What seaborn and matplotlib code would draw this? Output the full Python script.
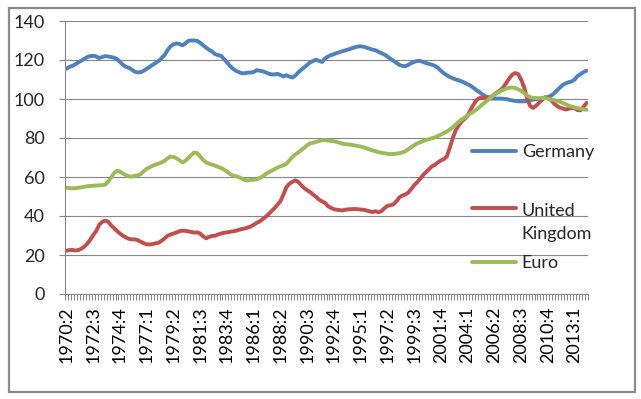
import numpy as np
import pandas as pd
import matplotlib
matplotlib.use("Agg")
import matplotlib.pyplot as plt
from matplotlib.patches import Rectangle
from matplotlib.legend_handler import HandlerLine2D
import seaborn as sns

# ---------------- data ----------------
series_names = ["Germany", "United Kingdom", "Euro"]
series_colors = ["#4F81BD", "#C0504D", "#9BBB59"]

# quarterly categories 1970:2 .. 2014:1
quarters = [f"{1970 + (q + 1) // 4}:{(q + 1) % 4 + 1}" for q in range(176)]

tick_labels = ["1970:2", "1972:3", "1974:4", "1977:1", "1979:2", "1981:3", "1983:4",
               "1986:1", "1988:2", "1990:3", "1992:4", "1995:1", "1997:2", "1999:3",
               "2001:4", "2004:1", "2006:2", "2008:3", "2010:4", "2013:1"]

germany = [115.5, 116.5, 117, 117.8, 118.8, 119.7, 120.5, 121.5, 122, 122.2,
           121.8, 121, 121.5, 122, 121.8, 121.5, 121.2, 120.5, 119, 117.5,
           116.5, 116, 115, 114, 113.6, 113.8, 114.5, 115.5, 116.5, 117.5,
           118.5, 119.5, 121, 122.5, 125, 127, 128, 128.5, 128.2, 127.5,
           128.5, 129.8, 130, 130, 129.8, 128.8, 127.5, 126.3, 125.2, 124.3,
           123, 122.5, 122.2, 120.5, 118.8, 117, 115.5, 114.5, 113.8, 113.2,
           113.2, 113.5, 113.6, 113.8, 114.8, 114.5, 114.2, 113.7, 113, 112.6,
           112.6, 112.9, 112.3, 111.6, 112.2, 111.5, 111, 112, 113.6, 115,
           116.2, 117.5, 118.8, 119.5, 120.2, 119.5, 119, 120.8, 121.8, 122.5,
           123, 123.6, 124.1, 124.6, 125, 125.5, 126, 126.5, 126.9, 127,
           126.8, 126.3, 125.8, 125.3, 125, 124.2, 123.5, 122.8, 121.8, 120.7,
           119.6, 118.6, 117.5, 117, 116.8, 117.5, 118.4, 119, 119.5, 119.5,
           119, 118.4, 118, 117.6, 117, 116, 114.5, 113.2, 112.2, 111.3,
           110.6, 110, 109.6, 109, 108.3, 107.6, 106.8, 105.7, 104.5, 103.5,
           102.3, 101.4, 100.6, 100.2, 100.2, 100.2, 100.2, 100.1, 100, 99.6,
           99.3, 99, 98.8, 98.8, 98.8, 99, 99.4, 99.7, 99.9, 100,
           100.1, 100.5, 101, 101.6, 102.8, 104.3, 105.8, 107.2, 108, 108.6,
           109, 110, 111.8, 112.8, 113.8, 114.5]

united_kingdom = [22.2, 22.5, 22.6, 22.3, 22.5, 23.2, 24.3, 25.8, 27.8, 30.2,
                  32.3, 35.5, 37, 37.6, 37.2, 35.2, 33.8, 32.3, 31, 29.9,
                  29, 28.3, 28, 28, 27.6, 26.8, 26, 25.5, 25.4, 25.6,
                  26, 26.3, 27.3, 28.5, 29.8, 30.5, 31, 31.5, 32.2, 32.5,
                  32.4, 32.1, 31.8, 31.5, 31.6, 31, 29.5, 28.6, 29.3, 29.8,
                  29.9, 30.5, 31, 31.4, 31.6, 31.9, 32.1, 32.4, 32.9, 33.3,
                  33.6, 34.1, 34.6, 35.5, 36.5, 37.2, 38.4, 39.5, 41, 42.5,
                  44, 45.8, 47.6, 51, 54.8, 56.5, 57.5, 58.3, 57.5, 55.8,
                  54.3, 53.2, 52.3, 51, 49.8, 48.4, 47.5, 46.8, 45, 44.2,
                  43.5, 43.2, 43, 42.9, 43.3, 43.4, 43.5, 43.6, 43.5, 43.3,
                  43.2, 42.8, 42.4, 42, 42.5, 41.9, 42.5, 44, 45.2, 45.5,
                  46, 47.5, 49.5, 50.5, 51, 52, 53.8, 55.8, 57.3, 59,
                  61, 62.5, 64, 65.5, 66.3, 67.5, 68.5, 69.2, 70.5, 75,
                  80, 84, 86.5, 88.5, 89.8, 91.5, 94.5, 97.2, 99.5, 100.5,
                  100.5, 100.6, 100.8, 101.2, 102.3, 103.5, 104.5, 106, 108.3, 110.5,
                  112.5, 113.3, 112.8, 110, 106, 100.5, 96.5, 95.4, 96.5, 98,
                  99.7, 100.9, 100.5, 99.6, 97.8, 96.5, 95.6, 95.1, 94.6, 95,
                  95.4, 95.2, 94.3, 94.2, 96, 98]

euro = [54.5, 54.3, 54.2, 54.3, 54.5, 54.7, 55, 55.3, 55.4, 55.5,
        55.6, 55.7, 55.8, 56, 57.5, 59.8, 62, 63.2, 62.8, 61.7,
        61, 60.3, 60.2, 60.6, 60.9, 61.5, 63, 64.2, 65, 65.8,
        66.4, 66.9, 67.5, 68.3, 69.5, 70.5, 70.3, 69.6, 68.6, 67.5,
        68.3, 69.8, 71.3, 72.6, 72.2, 70.5, 68.8, 67.5, 66.8, 66.3,
        65.8, 65.2, 64.6, 63.8, 62.8, 61.6, 60.8, 60.4, 59.9, 59.2,
        58.5, 58.2, 58.5, 58.6, 58.8, 59.5, 60.3, 61.5, 62.4, 63.2,
        64, 64.8, 65.5, 66, 66.8, 68.5, 70.3, 71.5, 72.6, 73.8,
        75, 76.3, 77.3, 77.6, 78, 78.5, 78.9, 79, 78.7, 78.5,
        78.3, 78, 77.5, 77, 76.8, 76.7, 76.5, 76.2, 75.9, 75.6,
        75.2, 74.7, 74.2, 73.6, 73.2, 72.8, 72.4, 72.2, 71.9, 71.8,
        71.8, 72, 72.2, 72.6, 73.2, 74.2, 75.3, 76.3, 77.2, 77.8,
        78.4, 79, 79.4, 79.9, 80.3, 81, 81.8, 82.5, 83.3, 84.3,
        85.5, 87, 88.3, 89.5, 90.5, 91.6, 92.6, 93.6, 94.6, 95.9,
        97.2, 98.5, 99.8, 101, 102.2, 103.2, 104, 104.7, 105.3, 105.8,
        105.9, 105.7, 105, 104.2, 103, 101.8, 101, 100.6, 100.5, 100.4,
        100.5, 100.5, 100.2, 99.8, 99.4, 99, 98.6, 98, 97.3, 96.6,
        96.1, 95.6, 95.3, 95, 94.7, 94.5]

# ---------------- build table ----------------
n = len(quarters)
df = pd.concat([
    pd.DataFrame({"t": np.arange(n), "quarter": quarters, "value": vals, "series": name})
    for name, vals in zip(series_names, [germany, united_kingdom, euro])
], ignore_index=True)

# ---------------- style ----------------
sns.set_theme(style="white")
plt.rcParams["font.family"] = ["Lato", "DejaVu Sans"]
GRID = "#868686"
FS = 13

W, H = 641, 399
fig = plt.figure(figsize=(W / 100, H / 100), dpi=100)
fig.patch.set_facecolor("white")
ax = fig.add_axes([65 / W, (H - 294) / H, (588 - 65) / W, (294 - 21) / H])

sns.lineplot(data=df, x="t", y="value", hue="series", hue_order=series_names,
             palette=series_colors, linewidth=2.8, legend=False, ax=ax)
for ln in ax.get_lines():
    ln.set_solid_capstyle("round")
    ln.set_solid_joinstyle("round")

ax.set_xlim(-0.5, n - 0.5)
ax.set_ylim(0, 140)
ax.set_yticks(np.arange(0, 141, 20))
ax.yaxis.grid(True, color=GRID, linewidth=0.8)
ax.xaxis.grid(False)
ax.set_axisbelow(True)

tick_pos = [quarters.index(lbl) for lbl in tick_labels]
ax.set_xticks(tick_pos)
ax.set_xticklabels(tick_labels, rotation=90, fontsize=FS)
ax.set_xticks(np.arange(-0.5, n, 1.0), minor=True)
ax.tick_params(axis="x", which="major", length=0, pad=9, colors="black")
ax.tick_params(axis="x", which="minor", length=4.3, width=0.7, color=GRID, direction="out", bottom=True)
ax.tick_params(axis="y", which="major", length=4.6, width=0.8, color=GRID, pad=10, labelsize=FS, left=True)
ax.set_xlabel("")
ax.set_ylabel("")

for s in ["top", "right"]:
    ax.spines[s].set_visible(False)
for s in ["left", "bottom"]:
    ax.spines[s].set_color(GRID)
    ax.spines[s].set_linewidth(0.8)

# ---------------- legend ----------------
class ShiftedLineHandler(HandlerLine2D):
    def __init__(self, dy=0.0, **kw):
        super().__init__(**kw)
        self.dy = dy

    def create_artists(self, legend, orig_handle, xdescent, ydescent, width, height, fontsize, trans):
        arts = super().create_artists(legend, orig_handle, xdescent, ydescent, width, height, fontsize, trans)
        for a in arts:
            a.set_ydata(np.asarray(a.get_ydata(), dtype=float) + self.dy)
        return arts

lines = ax.get_lines()[:3]
common = dict(frameon=False, borderpad=0, borderaxespad=0, fontsize=FS,
              handlelength=2.45, handletextpad=0.3)

leg1 = fig.legend([lines[0]], [series_names[0]], loc="center left",
                  bbox_to_anchor=(472 / W, 1 - 152 / H), **common)
leg2 = fig.legend([lines[1], lines[2]], ["United\nKingdom", series_names[2]],
                  loc="center left", bbox_to_anchor=(472 / W, 1 - 237 / H),
                  labelspacing=0.75,
                  handler_map={lines[1]: ShiftedLineHandler(dy=10.2)}, **common)
for t in leg2.get_texts():
    t.set_linespacing(1.55)

# ---------------- chart border ----------------
fig.patches.append(Rectangle((9 / W, (H - 392) / H), (635 - 9) / W, (392 - 8) / H,
                             transform=fig.transFigure, fill=False,
                             edgecolor="#8a8a8a", linewidth=1.6))

fig.savefig("out.png", dpi=100, facecolor="white")
